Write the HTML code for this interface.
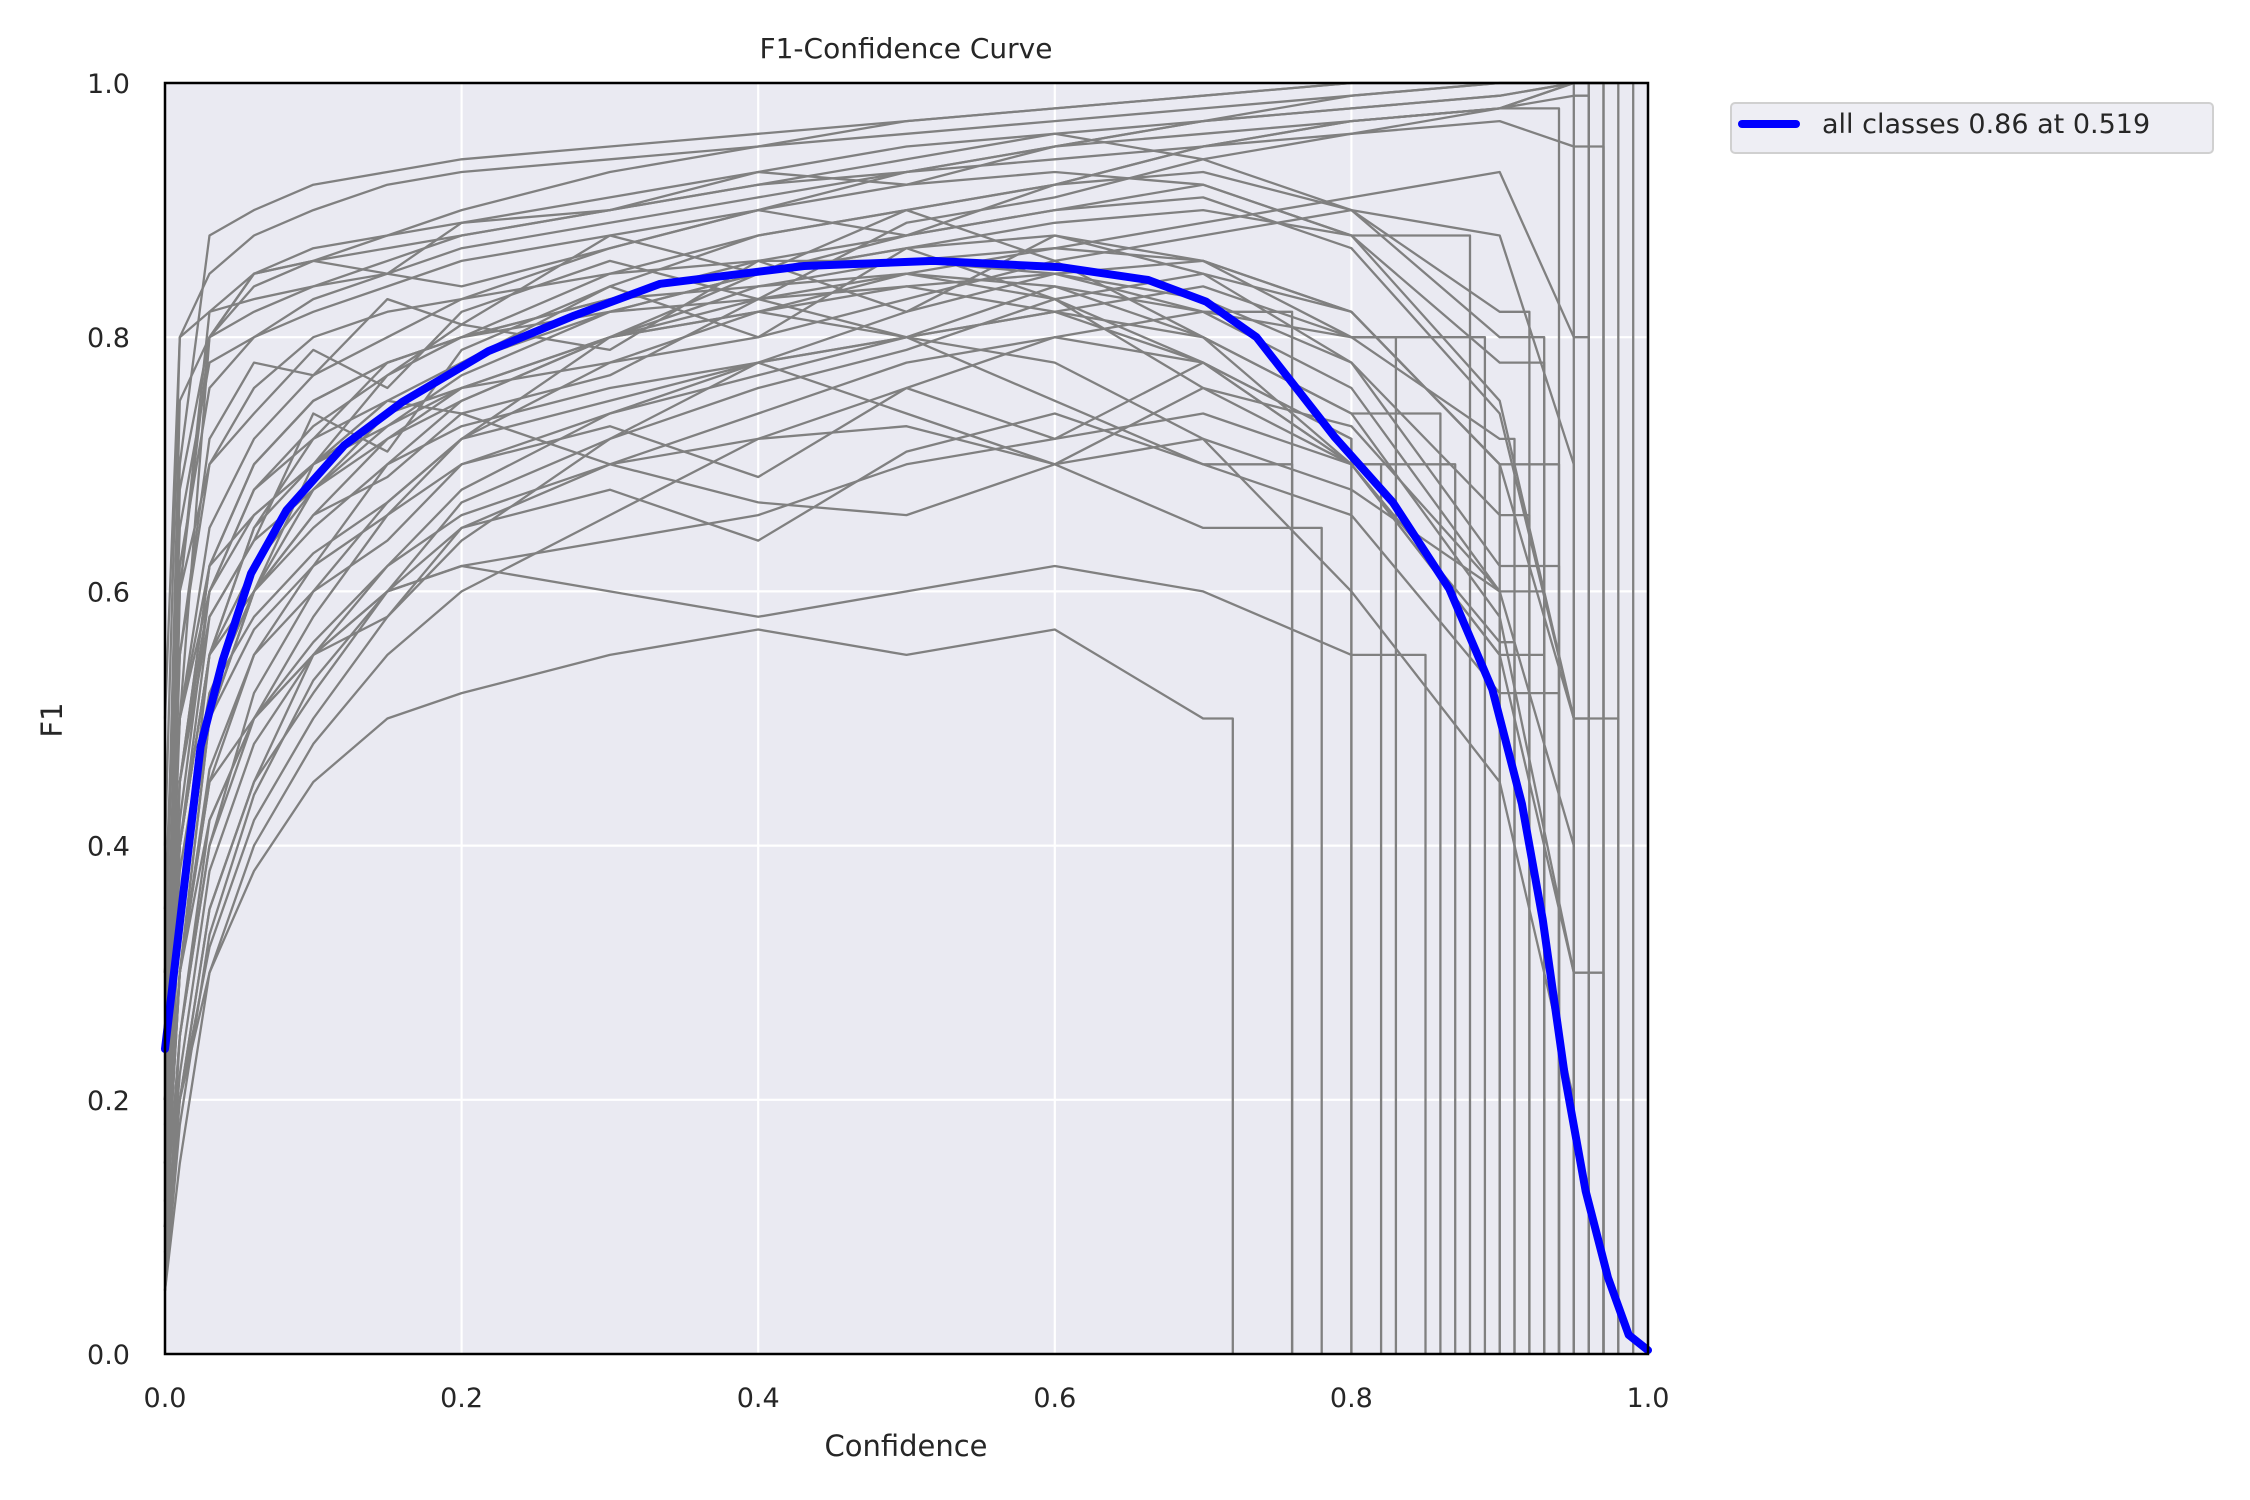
<!DOCTYPE html>
<html><head><meta charset="utf-8"><title>F1-Confidence Curve</title>
<style>
html,body{margin:0;padding:0;background:#fff;}
svg{display:block;font-family:"DejaVu Sans","Liberation Sans",sans-serif;}
</style></head>
<body>
<svg id="chart" width="2250" height="1500" viewBox="0 0 2250 1500" xmlns="http://www.w3.org/2000/svg">
<rect x="0" y="0" width="2250" height="1500" fill="#ffffff"/>
<text x="906" y="58" text-anchor="middle" font-size="28" fill="#262626">F1-Confidence Curve</text>
<text x="906" y="1456" text-anchor="middle" font-size="29" fill="#262626">Confidence</text>
<text transform="translate(62,720) rotate(-90)" text-anchor="middle" font-size="29" fill="#262626">F1</text>
<g id="plot"></g>
<g>
<rect x="1731" y="103" width="482" height="50" rx="4" fill="#eeeef4" stroke="#d0d0d0" stroke-width="2"/>
<line x1="1742" y1="124" x2="1796" y2="124" stroke="#0000ff" stroke-width="8" stroke-linecap="round"/>
<text x="1822" y="133" font-size="27" fill="#262626">all classes 0.86 at 0.519</text>
</g>
</svg>
<script>
const xTicks = [0, 0.2, 0.4, 0.6, 0.8, 1.0];
const yTicks = [0, 0.2, 0.4, 0.6, 0.8, 1.0];
const tickLabels = ["0.0", "0.2", "0.4", "0.6", "0.8", "1.0"];
const gridX = [0,0.01,0.03,0.06,0.1,0.15,0.2,0.3,0.4,0.5,0.6,0.7,0.8,0.9,0.95,1.0];
const classCurves = [
[0.3,0.7,0.88,0.9,0.92,0.93,0.94,0.95,0.96,0.97,0.98,0.99,1.0,1.0,1.0,1.0],
[0.2,0.5,0.8,0.85,0.87,0.88,0.89,0.9,0.92,0.93,0.94,0.95,0.96,0.98,1.0,1.0],
[0.1,0.3,0.5,0.6,0.7,0.75,0.78,0.82,0.85,0.87,0.88,0.86,0.82,0.7,0.5,0.3],
[0.15,0.35,0.55,0.65,0.72,0.78,0.8,0.83,0.84,0.85,0.84,0.8,0.7,0.55,0.3,0.1],
[0.05,0.2,0.35,0.45,0.55,0.62,0.68,0.74,0.78,0.8,0.78,0.72,0.6,0.45,0.2,0],
[0.1,0.25,0.4,0.5,0.58,0.66,0.72,0.8,0.85,0.88,0.9,0.92,0.88,0.75,0.5,0.2],
[0.2,0.6,0.82,0.85,0.86,0.87,0.88,0.9,0.92,0.94,0.96,0.97,0.98,0.99,1.0,1.0],
[0.25,0.45,0.6,0.68,0.72,0.75,0.74,0.7,0.67,0.66,0.7,0.72,0.68,0.6,0.5,0.4],
[0.12,0.3,0.45,0.5,0.55,0.6,0.62,0.6,0.58,0.6,0.62,0.6,0.55,0.5,0.4,0.3],
[0.1,0.2,0.3,0.38,0.45,0.5,0.52,0.55,0.57,0.55,0.57,0.5,0.4,0.3,0.2,0.1],
[0.3,0.75,0.8,0.82,0.84,0.86,0.88,0.9,0.93,0.95,0.96,0.94,0.9,0.8,0.6,0.3],
[0.2,0.4,0.55,0.62,0.68,0.73,0.77,0.82,0.85,0.87,0.89,0.9,0.88,0.8,0.6,0.3],
[0.15,0.3,0.45,0.55,0.62,0.7,0.75,0.8,0.82,0.85,0.83,0.78,0.72,0.62,0.4,0.2],
[0.4,0.8,0.85,0.88,0.9,0.92,0.93,0.94,0.95,0.96,0.97,0.98,0.99,1.0,1.0,1.0],
[0.3,0.5,0.62,0.7,0.75,0.78,0.8,0.85,0.88,0.9,0.92,0.95,0.97,0.98,0.99,1.0],
[0.1,0.25,0.42,0.5,0.56,0.62,0.66,0.7,0.72,0.73,0.7,0.65,0.55,0.4,0.2,0.05],
[0.2,0.4,0.55,0.6,0.65,0.7,0.73,0.76,0.78,0.8,0.82,0.84,0.8,0.7,0.5,0.2],
[0.05,0.15,0.3,0.4,0.48,0.55,0.6,0.66,0.72,0.76,0.8,0.82,0.8,0.72,0.5,0.2],
[0.1,0.3,0.5,0.6,0.68,0.74,0.78,0.84,0.88,0.9,0.92,0.93,0.9,0.82,0.6,0.3],
[0.25,0.55,0.7,0.76,0.8,0.82,0.83,0.85,0.86,0.86,0.85,0.82,0.75,0.6,0.35,0.1],
[0.35,0.65,0.78,0.8,0.82,0.84,0.86,0.88,0.9,0.93,0.95,0.97,0.98,0.99,1.0,1.0],
[0.2,0.35,0.5,0.57,0.62,0.66,0.7,0.74,0.77,0.8,0.82,0.8,0.74,0.62,0.4,0.15],
[0.15,0.3,0.42,0.5,0.55,0.6,0.62,0.64,0.66,0.7,0.72,0.74,0.7,0.6,0.4,0.1],
[0.5,0.8,0.82,0.83,0.84,0.85,0.87,0.89,0.91,0.93,0.95,0.96,0.97,0.98,0.99,1.0],
[0.1,0.2,0.32,0.42,0.5,0.58,0.64,0.72,0.78,0.82,0.85,0.86,0.8,0.65,0.4,0.1],
[0.3,0.5,0.65,0.72,0.77,0.8,0.83,0.87,0.9,0.92,0.93,0.92,0.88,0.78,0.55,0.2],
[0.08,0.2,0.35,0.45,0.52,0.6,0.65,0.7,0.74,0.78,0.8,0.78,0.7,0.58,0.35,0.1],
[0.2,0.4,0.55,0.65,0.7,0.74,0.76,0.78,0.8,0.83,0.86,0.88,0.9,0.88,0.7,0.4],
[0.1,0.6,0.8,0.85,0.86,0.88,0.9,0.93,0.95,0.97,0.98,0.99,1.0,1.0,1.0,1.0],
[0.25,0.45,0.58,0.64,0.68,0.72,0.75,0.8,0.82,0.8,0.75,0.7,0.62,0.5,0.3,0.1],
[0.15,0.35,0.5,0.6,0.66,0.72,0.76,0.8,0.84,0.86,0.87,0.86,0.82,0.7,0.45,0.15],
[0.3,0.5,0.6,0.66,0.7,0.73,0.76,0.8,0.83,0.85,0.87,0.89,0.91,0.93,0.8,0.5],
[0.2,0.45,0.62,0.7,0.75,0.78,0.8,0.82,0.83,0.84,0.82,0.78,0.72,0.6,0.4,0.15],
[0.05,0.25,0.4,0.52,0.6,0.67,0.72,0.78,0.82,0.84,0.85,0.83,0.78,0.66,0.45,0.2],
[0.1,0.45,0.62,0.66,0.7,0.77,0.81,0.79,0.86,0.82,0.88,0.85,0.78,0.62,0.35,0.1],
[0.15,0.4,0.58,0.64,0.74,0.71,0.79,0.84,0.8,0.87,0.83,0.76,0.7,0.55,0.3,0.05],
[0.2,0.55,0.72,0.78,0.77,0.83,0.81,0.88,0.85,0.9,0.86,0.8,0.74,0.58,0.3,0.1],
[0.1,0.3,0.46,0.55,0.6,0.64,0.7,0.73,0.69,0.76,0.72,0.78,0.7,0.56,0.32,0.08],
[0.35,0.6,0.7,0.74,0.79,0.76,0.82,0.86,0.83,0.89,0.91,0.94,0.96,0.97,0.95,0.9],
[0.08,0.22,0.38,0.48,0.55,0.58,0.65,0.68,0.64,0.71,0.74,0.7,0.66,0.52,0.3,0.08],
[0.25,0.62,0.76,0.8,0.83,0.85,0.84,0.87,0.9,0.88,0.92,0.95,0.97,0.98,1.0,1.0],
[0.12,0.35,0.52,0.6,0.66,0.69,0.74,0.77,0.83,0.8,0.84,0.82,0.76,0.6,0.36,0.12],
[0.2,0.38,0.52,0.58,0.63,0.67,0.72,0.75,0.78,0.74,0.7,0.76,0.73,0.6,0.4,0.2],
[0.3,0.68,0.8,0.84,0.86,0.85,0.89,0.91,0.93,0.92,0.95,0.97,0.99,1.0,1.0,1.0],
[0.05,0.18,0.33,0.44,0.53,0.6,0.67,0.72,0.76,0.79,0.83,0.85,0.82,0.7,0.45,0.15],
[0.18,0.42,0.6,0.68,0.73,0.77,0.8,0.83,0.86,0.88,0.9,0.91,0.87,0.74,0.5,0.2]
];
const classCutoffs = [0.97,0.96,0.98,0.97,0.95,0.96,0.95,0.9,0.85,0.72,0.93,0.88,0.8,0.99,0.94,0.78,0.83,0.91,0.92,0.76,0.97,0.86,0.82,0.96,0.89,0.93,0.87,0.95,0.98,0.76,0.9,0.96,0.8,0.92,0.94,0.93,0.95,0.91,0.97,0.94,0.96,0.93,0.95,0.96,0.94,0.95];
const allX = [0,0.024,0.039,0.058,0.082,0.121,0.16,0.218,0.276,0.334,0.431,0.518,0.605,0.663,0.702,0.736,0.789,0.828,0.866,0.895,0.915,0.929,0.944,0.958,0.973,0.987,1.0];
const allY = [0.24,0.478,0.546,0.614,0.664,0.715,0.749,0.789,0.817,0.842,0.856,0.86,0.855,0.845,0.828,0.8,0.721,0.67,0.602,0.523,0.433,0.342,0.218,0.128,0.06,0.015,0.003];

const L=165,R=1648,T=83,B=1354;
function sx(v){return L+v*(R-L);}
function sy(v){return B-v*(B-T);}
const NS="http://www.w3.org/2000/svg";
const plot=document.getElementById('plot');
function mk(tag,attrs){const e=document.createElementNS(NS,tag);for(const k in attrs)e.setAttribute(k,attrs[k]);return e;}

const bg=mk('rect',{x:L,y:T,width:R-L,height:B-T,fill:'#eaeaf2'});


plot.appendChild(bg);

xTicks.forEach((t,i)=>{
  const g=mk('line',{x1:sx(t),x2:sx(t),y1:T,y2:B,stroke:'#ffffff','stroke-width':2.2});
  
  
  plot.appendChild(g);
  const lb=mk('text',{x:sx(t),y:1407,'text-anchor':'middle','font-size':27,fill:'#262626'});
  lb.textContent=tickLabels[i];
  
  
  plot.appendChild(lb);
});
yTicks.forEach((t,i)=>{
  const g=mk('line',{x1:L,x2:R,y1:sy(t),y2:sy(t),stroke:'#ffffff','stroke-width':2.2});
  
  
  plot.appendChild(g);
  const lb=mk('text',{x:130,y:sy(t)+10,'text-anchor':'end','font-size':27,fill:'#262626'});
  lb.textContent=tickLabels[i];
  
  
  plot.appendChild(lb);
});

classCurves.forEach((ys,ci)=>{
  const cut=classCutoffs[ci];
  let d='';let last=0;
  for(let i=0;i<gridX.length;i++){
    if(gridX[i]>cut)break;
    d+=(d?'L':'M')+sx(gridX[i]).toFixed(1)+','+sy(ys[i]).toFixed(1);
    last=ys[i];
  }
  d+='L'+sx(cut).toFixed(1)+','+sy(last).toFixed(1)+'L'+sx(cut).toFixed(1)+','+sy(0).toFixed(1);
  const p=mk('path',{d:d,fill:'none',stroke:'#808080','stroke-width':2.3,'stroke-linejoin':'round'});
  
  
  plot.appendChild(p);
});

let bd='';
allX.forEach((x,i)=>{bd+=(i?'L':'M')+sx(x).toFixed(1)+','+sy(allY[i]).toFixed(1);});
const bp=mk('path',{d:bd,fill:'none',stroke:'#0000ff','stroke-width':8,'stroke-linejoin':'round','stroke-linecap':'round'});


plot.appendChild(bp);

const fr=mk('rect',{x:L,y:T,width:R-L,height:B-T,fill:'none',stroke:'#000000','stroke-width':2.5});


plot.appendChild(fr);
</script>
</body></html>
